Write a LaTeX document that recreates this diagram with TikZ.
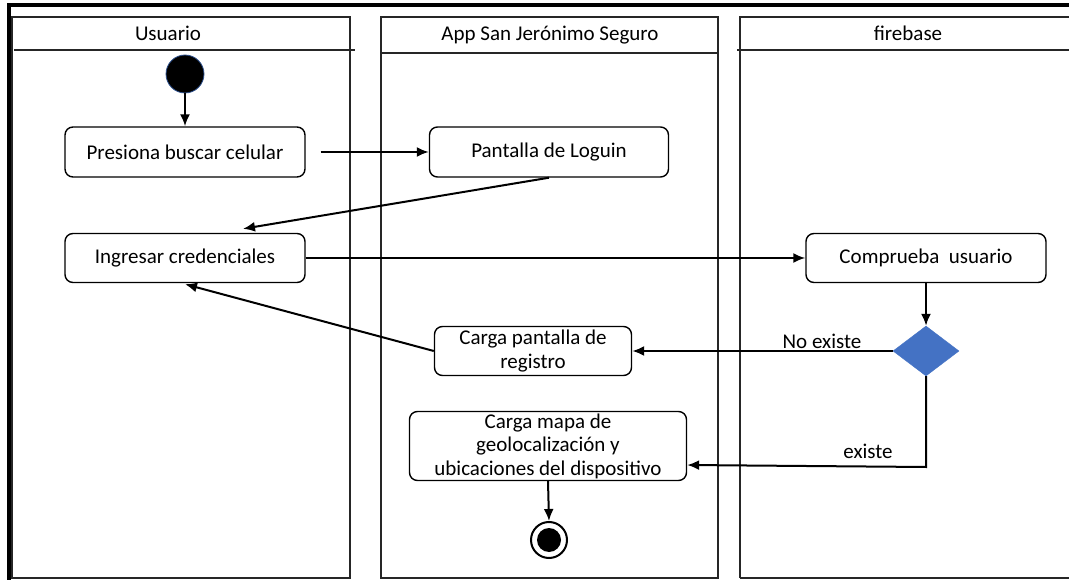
\documentclass[tikz,border=0pt]{standalone}
\usepackage{fontspec}
\setmainfont{Carlito}
\usetikzlibrary{shapes.geometric,arrows.meta,calc}
\definecolor{decblue}{HTML}{4472C4}
\definecolor{decedge}{HTML}{2F528F}
\begin{document}
\begin{tikzpicture}[x=1pt,y=-1pt,
  lane/.style={draw=black!85,line width=2pt},
  act/.style={draw,rounded corners=8pt,line width=1.4pt,align=center,font=\fontsize{21}{23.5}\selectfont,inner sep=0pt},
  lbl/.style={font=\fontsize{21}{23.5}\selectfont},
  conn/.style={line width=2pt,-{Latex[length=12pt,width=10pt]}},
  plain/.style={line width=2pt}]
\useasboundingbox (0,0) rectangle (1069,580);
\clip (0,0) rectangle (1069,580);
% outer frame
\draw[line width=4pt] (9,600) -- (9,5) -- (1100,5);
% lanes
\draw[lane] (12,578) -- (12,17) -- (350,17) -- (350,578) -- cycle;
\draw[lane] (14,50) -- (355,50);
\draw[lane] (381,578) -- (381,17) -- (718,17) -- (718,578) -- cycle;
\draw[lane] (381,53) -- (718,53);
\draw[lane] (740,578) -- (740,17) -- (1080,17);
\draw[lane] (740,578) -- (1080,578);
\draw[lane] (737,50) -- (1080,50);
\node[lbl] (h1) at (168,33) {Usuario};
\node[lbl] (h2) at (550,35) {App San Jerónimo Seguro};
\node[lbl] (h3) at (908,33) {firebase};
% nodes
\node[circle,fill=black,draw=decedge,line width=0.8pt,minimum size=38pt,inner sep=0pt] (start) at (185,74) {};
\node[act,minimum width=240pt,minimum height=50pt] (pres) at (185,152) {Presiona buscar celular};
\node[act,minimum width=239pt,minimum height=50pt] (login) at (549,152) {Pantalla de Loguin};
\node[act,minimum width=240pt,minimum height=49pt] (ing) at (185,258) {Ingresar credenciales};
\node[act,minimum width=240pt,minimum height=49pt] (comp) at (926,258) {Comprueba\ \ usuario};
\node[diamond,fill=decblue,draw=decblue,minimum width=66pt,minimum height=50pt,inner sep=0pt,aspect=1.32] (dec) at (926,351) {};
\node[act,minimum width=197pt,minimum height=49pt] (reg) at (533,351) {Carga pantalla de\\registro};
\node[act,minimum width=277pt,minimum height=69pt] (mapa) at (548,446) {Carga mapa de\\geolocalización y\\ubicaciones del dispositivo};
\node[circle,draw,line width=2pt,minimum size=36pt,inner sep=0pt] (endo) at (549,540) {};
\node[circle,fill=black,minimum size=24pt,inner sep=0pt] (endi) at (549,540) {};
% connectors
\draw[conn] (start) -- (pres);
\draw[conn] ([xshift=15pt]pres.east) -- (login.west);
\draw[conn] (login.south) -- ([xshift=58pt,yshift=4pt]ing.north);
\draw[conn] (ing.east) -- (comp.west);
\draw[conn] (comp.south) -- (dec.north);
\draw[conn] (dec.west) -- (reg.east);
\draw[conn] (reg.west) -- ([yshift=-1pt]ing.south);
\coordinate (corner) at (926,467);
\draw[conn] (dec.south) -- (corner) -- ([yshift=-19pt]mapa.east);
\draw[conn] (mapa.south) -- (endo.north);
\node[lbl] (lno) at (822,341) {No existe};
\node[lbl] (lex) at (868,451) {existe};
\end{tikzpicture}
\end{document}
